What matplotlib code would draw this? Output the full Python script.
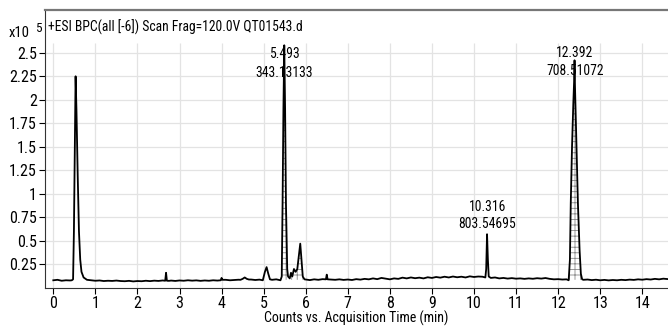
import numpy as np
import matplotlib
matplotlib.use("Agg")
import matplotlib.pyplot as plt

plt.rcParams['font.family'] = ['Roboto Condensed', 'Liberation Sans', 'DejaVu Sans']
plt.rcParams['hatch.linewidth'] = 0.6

# ---- data (intensity in units of 1e5 counts) ----
base_t = [0.0, 0.1, 0.2, 0.3, 0.4, 0.8, 0.9, 1.0, 1.1, 1.2, 1.3, 1.4, 1.5, 1.6, 1.7, 1.8, 1.9,
          2.0, 2.1, 2.2, 2.3, 2.4, 2.5, 2.6, 2.75, 2.8, 2.9, 3.0, 3.1, 3.2, 3.3, 3.4, 3.5, 3.6,
          3.7, 3.8, 3.9, 4.1, 4.2, 4.3, 4.4, 4.7, 4.8, 4.9, 5.2, 5.3, 6.0, 6.1, 6.2, 6.3, 6.4,
          6.6, 6.7, 6.8, 6.9, 7.0, 7.1, 7.2, 7.3, 7.4, 7.5, 7.6, 7.7, 7.8, 7.9, 8.0, 8.1, 8.2,
          8.3, 8.4, 8.5, 8.6, 8.7, 8.8, 8.9, 9.0, 9.1, 9.2, 9.3, 9.4, 9.5, 9.6, 9.7, 9.8, 9.9,
          10.0, 10.1, 10.2, 10.4, 10.5, 10.6, 10.7, 10.8, 10.9, 11.0, 11.1, 11.2, 11.3, 11.4,
          11.5, 11.6, 11.7, 11.8, 11.9, 12.0, 12.1, 12.2, 12.6, 12.7, 12.8, 12.9, 13.0, 13.1,
          13.2, 13.3, 13.4, 13.5, 13.6, 13.7, 13.8, 13.9, 14.0, 14.1, 14.2, 14.3, 14.4, 14.5, 14.6]
base_v = [0.080, 0.085, 0.075, 0.080, 0.078, 0.085, 0.080, 0.075, 0.078, 0.072, 0.075, 0.073,
          0.077, 0.072, 0.070, 0.074, 0.068, 0.072, 0.070, 0.075, 0.071, 0.076, 0.073, 0.078,
          0.074, 0.077, 0.073, 0.078, 0.075, 0.080, 0.076, 0.079, 0.074, 0.078, 0.075, 0.080,
          0.077, 0.085, 0.080, 0.083, 0.086, 0.088, 0.083, 0.087, 0.085, 0.090, 0.088, 0.082,
          0.090, 0.085, 0.092, 0.088, 0.085, 0.090, 0.084, 0.088, 0.083, 0.092, 0.087, 0.095,
          0.090, 0.100, 0.092, 0.105, 0.098, 0.090, 0.100, 0.095, 0.108, 0.100, 0.110, 0.102,
          0.108, 0.100, 0.112, 0.105, 0.115, 0.108, 0.118, 0.110, 0.120, 0.112, 0.118, 0.110,
          0.122, 0.115, 0.120, 0.118, 0.105, 0.110, 0.100, 0.105, 0.098, 0.103, 0.097, 0.100,
          0.095, 0.100, 0.096, 0.102, 0.098, 0.104, 0.095, 0.090, 0.092, 0.088, 0.090, 0.085,
          0.088, 0.082, 0.086, 0.080, 0.084, 0.079, 0.083, 0.080, 0.085, 0.082, 0.087, 0.084,
          0.090, 0.086, 0.092, 0.088, 0.095, 0.090, 0.097, 0.093]

peak_t = [0.44, 0.47, 0.49, 0.51, 0.52, 0.53, 0.55, 0.58, 0.61, 0.64, 0.67, 0.72,
          2.66, 2.68, 2.70,
          3.98, 4.00, 4.02,
          4.45, 4.50, 4.55, 4.60, 4.65,
          4.98, 5.03, 5.07, 5.11, 5.15,
          5.40, 5.43, 5.45, 5.47, 5.49, 5.51, 5.53, 5.56, 5.58, 5.62, 5.65, 5.68, 5.72,
          5.76, 5.80, 5.84, 5.87, 5.90, 5.93, 5.97,
          6.48, 6.50, 6.52,
          10.27, 10.29, 10.31, 10.33, 10.35,
          12.25, 12.28, 12.30, 12.33, 12.36, 12.38, 12.39, 12.40, 12.43, 12.47, 12.51,
          12.54, 12.57]
peak_v = [0.080, 0.090, 0.600, 1.450, 1.800, 2.250, 1.900, 1.200, 0.600, 0.300, 0.170, 0.110,
          0.075, 0.160, 0.075,
          0.080, 0.105, 0.085,
          0.085, 0.095, 0.110, 0.095, 0.088,
          0.080, 0.170, 0.220, 0.150, 0.090,
          0.080, 0.120, 0.900, 1.900, 2.580, 1.900, 0.900, 0.200, 0.120, 0.100, 0.160, 0.120,
          0.200, 0.170, 0.200, 0.350, 0.470, 0.300, 0.120, 0.090,
          0.090, 0.140, 0.090,
          0.110, 0.200, 0.570, 0.300, 0.120,
          0.080, 0.300, 0.900, 1.500, 1.950, 2.200, 2.420, 2.150, 1.600, 0.900, 0.400,
          0.150, 0.090]

label_rt = ["5.493", "10.316", "12.392"]
label_mz = ["343.13133", "803.54695", "708.51072"]
label_x = [5.493, 10.316, 12.392]

fill_ranges = [(5.42, 5.96), (12.25, 12.57)]

x_ticks = list(range(0, 15))
y_ticks = [0.25, 0.5, 0.75, 1, 1.25, 1.5, 1.75, 2, 2.25, 2.5]
y_ticklabels = ["0.25", "0.5", "0.75", "1", "1.25", "1.5", "1.75", "2", "2.25", "2.5"]

# ---- merge series ----
t = np.array(base_t + peak_t)
v = np.array(base_v + peak_v)
order = np.argsort(t)
t, v = t[order], v[order]

W, H = 668, 326
fig = plt.figure(figsize=(W / 100, H / 100), dpi=100)
ax = fig.add_axes([45 / W, (H - 287.8) / H, (W - 45) / W, (287.8 - 10) / H])
px_per_unit = 94.0
ax.set_ylim(0, (287.8 - 10) / px_per_unit)
x0 = 53.3
ppm = 42.07
ax.set_xlim((45 - x0) / ppm, (W - x0) / ppm)

grid_top = (287.8 - 43) / px_per_unit
ax.hlines(y_ticks, ax.get_xlim()[0], ax.get_xlim()[1], color='#e3e3e3', lw=0.9, zorder=0)
ax.vlines(x_ticks, 0, grid_top, color='#e3e3e3', lw=0.9, zorder=0)

for a, b in fill_ranges:
    m = (t >= a) & (t <= b)
    ax.fill_between(t[m], 0.085, v[m], facecolor='white', edgecolor='#8a8a8a',
                    hatch='+++', linewidth=0, zorder=1)

ax.plot(t, v, color='black', lw=1.3, zorder=2)

label_y_rt = [2.487, 0.86, 2.503]
label_y_mz = [2.285, 0.675, 2.306]
for x, rt, mz, y1, y2 in zip(label_x, label_rt, label_mz, label_y_rt, label_y_mz):
    ax.text(x, y1, rt, ha='center', va='center', fontsize=9.8, zorder=3)
    ax.text(x, y2, mz, ha='center', va='center', fontsize=9.8, zorder=3)

ax.set_xticks(x_ticks)
ax.set_xticklabels([str(i) for i in x_ticks])
ax.set_yticks(y_ticks)
ax.set_yticklabels(y_ticklabels)
ax.tick_params(axis='both', direction='out', length=4, width=0.8, labelsize=11.5, pad=2)
ax.tick_params(axis='x', pad=2)

ax.spines['right'].set_visible(False)
ax.spines['top'].set_color('#777777')
ax.spines['top'].set_linewidth(1.6)
ax.spines['left'].set_color('#333333')
ax.spines['bottom'].set_color('#333333')

ax.text(48 / W, 1 - 27 / H, "+ESI BPC(all [-6]) Scan Frag=120.0V QT01543.d",
        transform=fig.transFigure, ha='left', va='center', fontsize=9.8)
fig.text(9 / W, 1 - 33 / H, "x10", ha='left', va='center', fontsize=10.5)
fig.text(35 / W, 1 - 28 / H, "5", ha='left', va='center', fontsize=9.5)

ax.set_xlabel("Counts vs. Acquisition Time (min)", fontsize=10, labelpad=0)

fig.savefig("out.png", dpi=100)
